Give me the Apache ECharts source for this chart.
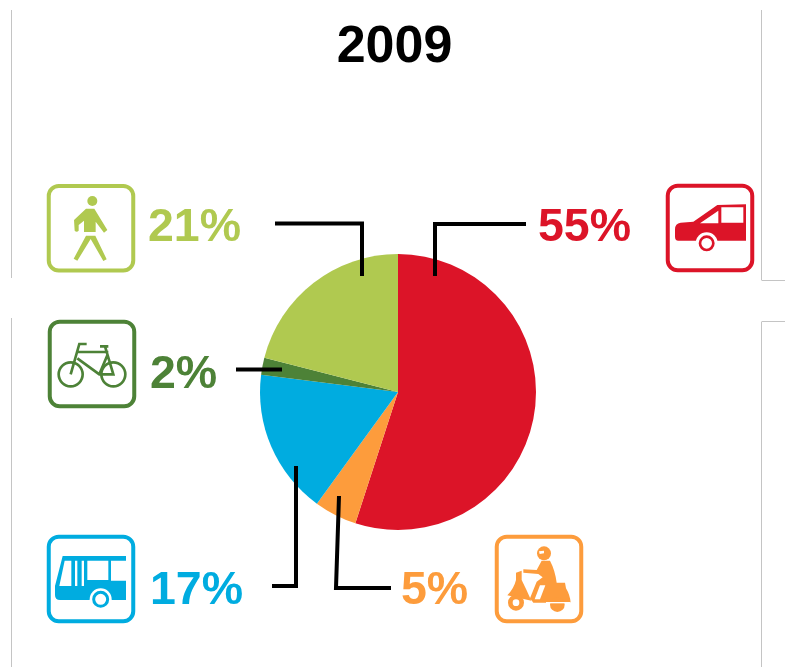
<!DOCTYPE html>
<html>
<head>
<meta charset="utf-8">
<style>html,body{margin:0;padding:0;background:#fff}#c{width:785px;height:667px}</style>
<script src="https://cdn.jsdelivr.net/npm/echarts@6/dist/echarts.min.js"></script>
</head>
<body>
<div id="c"></div>
<script>
const titleText = '2009';
const modes = ['Car', 'Scooter', 'Bus', 'Bicycle', 'Walking'];
const shares = [55, 5, 17, 2, 21];
const colors = ['#dc1428', '#fd9c3c', '#00ace0', '#4d8237', '#b0c950'];
const labelSpots = [[538, 228, 'left'], [401, 591, 'left'], [150, 591, 'left'], [150, 375, 'left'], [148, 228, 'left']];
const RED = colors[0], ORANGE = colors[1], BLUE = colors[2], DARK = colors[3], LIGHT = colors[4];

const chart = echarts.init(document.getElementById('c'), null, {renderer: 'canvas'});

function line(points) {
  return {type: 'polyline', z: 20, shape: {points}, style: {fill: null, stroke: '#000', lineWidth: 4}};
}
function rule(x1, y1, x2, y2) {
  return {type: 'line', z: 1, shape: {x1, y1, x2, y2}, style: {stroke: '#c4c4c4', lineWidth: 1}};
}
function box(x, y, color) {
  return {type: 'rect', shape: {x: x, y: y, width: 84.5, height: 84.5, r: 10}, style: {fill: '#fff', stroke: color, lineWidth: 4}, z: 5};
}
// icon art, drawn in 3x crop units and scaled down
let artCount = 0;
function art(ox, oy, d, style, z) {
  const name = 'iconArt' + (artCount++);
  echarts.graphic.registerShape(name, echarts.graphic.extendPath(d, {}));
  return {type: name, x: ox, y: oy, scaleX: 1 / 3, scaleY: 1 / 3, z: z || 6, style};
}
function ring(ox, oy, cx, cy, r, color, w) {
  return {type: 'circle', x: ox, y: oy, scaleX: 1 / 3, scaleY: 1 / 3, z: 8, shape: {cx, cy, r},
    style: {fill: '#fff', stroke: color, lineWidth: w}};
}
function disc(ox, oy, cx, cy, r, color, z) {
  return {type: 'circle', x: ox, y: oy, scaleX: 1 / 3, scaleY: 1 / 3, z: z || 7, shape: {cx, cy, r}, style: {fill: color}};
}

const graphics = [
  rule(11.5, 10, 11.5, 278), rule(11.5, 318, 11.5, 667),
  rule(761.5, 10, 761.5, 280), rule(761.5, 280.5, 785, 280.5),
  rule(761.5, 322, 761.5, 667), rule(761.5, 321.5, 785, 321.5),

  line([[275, 223.5], [362, 223.5], [362, 276]]),
  line([[526, 224], [435, 224], [435, 276]]),
  line([[236, 369.5], [282, 369.5]]),
  line([[272, 586], [296, 586], [296, 466]]),
  line([[391, 588], [336, 588], [339, 496]]),

  // walker
  box(48.75, 186, LIGHT),
  disc(0, 170, 277, 93, 15, LIGHT),
  art(0, 170, 'M258,116 L283,116 L322,180 L312,188 L287,155 L287,186 L252,186 L252,152 L236,165 L236,182 Q230,188 224,182 L222,150 Z M258,197 L286,197 L320,268 L310,273 L272,207 L232,272 L221,266 Z', {fill: LIGHT}),

  // bicycle
  box(49.75, 321.75, DARK),
  ring(0, 170, 212, 613, 36, DARK, 8),
  ring(0, 170, 340, 613, 36, DARK, 8),
  art(0, 170, 'M260,522 L238,522 L212,613 M232,546 L325,546 M300,529 L325,529 M315,529 L340,613 L298,613 L232,565 M322,556 L298,613', {fill: 'none', stroke: DARK, lineWidth: 8}, 9),

  // car
  box(667.75, 185.75, RED),
  art(480, 170, 'M585,178 Q585,160 602,158 L640,155 L712,105 L798,103 L798,212 L595,212 Q585,212 585,200 Z', {fill: RED}),
  art(480, 170, 'M660,160 L715,122 L715,160 Z M724,112 L790,112 L790,158 L724,158 Z', {fill: '#fff'}, 7),
  disc(480, 170, 680, 220, 33, '#fff'),
  ring(480, 170, 680, 220, 20, RED, 8),

  // bus
  box(48.75, 536.75, BLUE),
  art(30, 520, 'M98,108 L288,108 L288,122 L243,122 L243,182 L288,182 L288,240 L90,240 Q75,240 75,225 L75,198 Z', {fill: BLUE}),
  art(30, 520, 'M104,122 L124,122 L124,198 L88,198 Z M135,122 L142,122 L142,198 L135,198 Z M155,122 L162,122 L162,198 L155,198 Z M172,122 L235,122 L235,180 L172,180 Z', {fill: '#fff'}, 7),
  disc(30, 520, 212, 238, 33, '#fff'),
  ring(30, 520, 212, 238, 21, BLUE, 9),

  // scooter
  box(496.75, 536.75, ORANGE),
  disc(390, 520, 462, 100, 21, ORANGE),
  art(390, 520, 'M447,94 L462,92 L462,100 L449,102 Z', {fill: '#fff'}, 7),
  art(390, 520, 'M455,122 L480,122 Q495,150 500,188 L525,188 L528,205 Q540,225 542,248 L430,248 L420,235 L440,185 L458,172 L445,162 L400,158 L400,148 L440,150 Z M378,158 L395,152 L395,180 Q410,210 424,242 L352,226 Q372,205 378,180 Z', {fill: ORANGE}),
  art(390, 520, 'M450,196 L466,196 L450,238 L434,238 Z', {fill: '#fff'}, 7),
  ring(390, 520, 378, 248, 17, ORANGE, 14),
  disc(390, 520, 502, 254, 22, ORANGE, 6),
  art(390, 520, 'M468,246 L542,246 L542,250 L468,250 Z', {fill: '#fff'}, 7)
];

chart.setOption({
  animation: false,
  backgroundColor: '#fff',
  title: {
    text: titleText, left: 389.5, top: 17, textAlign: 'center',
    textStyle: {fontFamily: 'Liberation Sans', fontWeight: 'bold', fontSize: 52, color: '#000'}
  },
  graphic: graphics,
  series: [{
    type: 'pie',
    center: [398, 392],
    radius: [0, 138],
    startAngle: 90,
    clockwise: true,
    z: 10,
    color: colors,
    data: modes.map((m, i) => ({name: m, value: shares[i]})),
    itemStyle: {borderWidth: 0},
    label: {
      show: true,
      position: 'outside',
      formatter: '{c}%',
      color: 'inherit',
      fontFamily: 'Liberation Sans',
      fontWeight: 'bold',
      fontSize: 46.5
    },
    labelLine: {show: false},
    labelLayout: function (p) {
      const s = labelSpots[p.dataIndex];
      return {x: s[0], y: s[1], align: s[2], verticalAlign: 'middle'};
    },
    emphasis: {disabled: true}
  }]
});
</script>
</body>
</html>
